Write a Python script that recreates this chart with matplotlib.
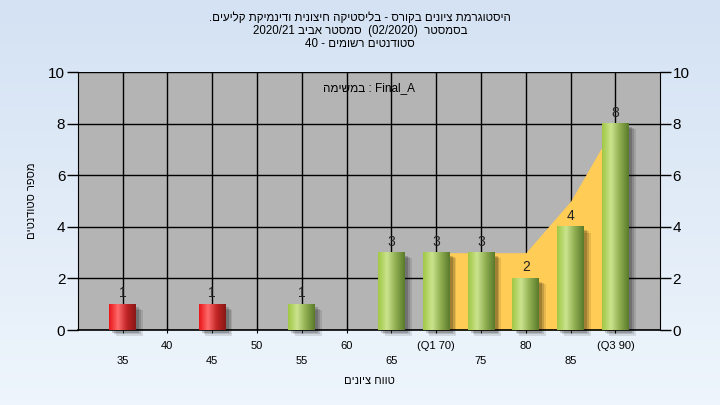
import numpy as np
import matplotlib.pyplot as plt
from matplotlib.colors import LinearSegmentedColormap

plt.rcParams['font.family'] = ['Liberation Sans', 'DejaVu Sans']

# data
grades = [35, 45, 55, 65, 70, 75, 80, 85, 90]
counts = [1, 1, 1, 3, 3, 3, 2, 4, 8]
fail_limit = 55
# quartile band (Q1..Q3) drawn behind the bars
band_x = [70, 75, 80, 85, 90]
band_y = [3, 3, 3, 5, 8]

major_ticks = [40, 50, 60, 70, 80, 90]
major_labels = ['40', '50', '60', '(Q1 70)', '80', '(Q3 90)']
minor_ticks = [35, 45, 55, 65, 75, 85]
minor_labels = ['35', '45', '55', '65', '75', '85']

title_lines = ['היסטוגרמת ציונים בקורס - בליסטיקה חיצונית ודינמיקת קליעים',
               'בסמסטר  (02/2020)  סמסטר אביב 2020/21',
               'סטודנטים רשומים - 40']
subtitle = 'במשימה : Final_A'
xlabel = 'טווח ציונים'
ylabel = 'סטודנטים מספר'


def heb(s, flip=False):
    # matplotlib has no bidi: turn each hebrew word around, optionally the word order too
    out = []
    for w in s.split(' '):
        if any('\u0590' <= c <= '\u05ff' for c in w):
            w = w[::-1]
        out.append(w)
    if flip:
        out = out[::-1]
    return ' '.join(out)


fig = plt.figure(figsize=(7.2, 4.05), dpi=100)

# light blue background gradient
bg = fig.add_axes([0, 0, 1, 1], zorder=-10)
bg.imshow(np.linspace(0, 1, 100).reshape(-1, 1),
          cmap=LinearSegmentedColormap.from_list('bg', ['#d4e2f3', '#eef5fc']),
          aspect='auto', extent=[0, 1, 0, 1])
bg.axis('off')

ax = fig.add_axes([0.108, 0.185, 0.809, 0.637])
ax.set_facecolor('#b4b4b4')

ax.fill_between(band_x, band_y, color='#ffcc55', zorder=1, lw=0)

green = LinearSegmentedColormap.from_list('g', ['#a0c844', '#cbe38e', '#8fae50', '#5a7a2c'])
red = LinearSegmentedColormap.from_list('r', ['#e8161a', '#ff6a6a', '#c02424', '#8a1616'])
grad = np.linspace(0, 1, 64).reshape(1, -1)
w = 3.0
for g, c in zip(grades, counts):
    # soft shadow
    for k, a in enumerate([0.18, 0.14, 0.1]):
        ax.bar(g + 0.35 + k * 0.2, c, width=w, bottom=-0.12 - k * 0.05, color='black',
               alpha=a, lw=0, zorder=2, clip_on=False)
    cm = red if g < fail_limit else green
    ax.imshow(grad, cmap=cm, aspect='auto', extent=[g - w / 2, g + w / 2, 0, c], zorder=3)
    ax.annotate(str(c), (g, c), xytext=(0, 8), textcoords='offset points',
                ha='center', va='center', fontsize=10, color='#222222', zorder=4)

ax.set_xlim(30, 95)
ax.set_ylim(0, 10)

ax.set_xticks(major_ticks)
ax.set_xticklabels(major_labels, fontsize=8)
ax.set_xticks(minor_ticks, minor=True)
ax.set_xticklabels(minor_labels, minor=True, fontsize=8)
ax.tick_params(axis='x', which='major', length=4, pad=6, direction='inout')
ax.tick_params(axis='x', which='minor', length=4, pad=17, direction='inout')
ax.set_yticks(range(0, 11, 2))
ax.tick_params(axis='y', labelsize=11, length=8, width=1, left=True, right=True,
               labelleft=True, labelright=True, pad=1)

ax.grid(True, which='both', axis='x', color='black', lw=1, zorder=0)
ax.grid(True, axis='y', color='black', lw=1, zorder=0)
ax.set_axisbelow(True)
ax.spines['top'].set_visible(False)
ax.spines['bottom'].set_linewidth(1.2)

ax.set_xlabel(heb(xlabel, flip=True), fontsize=8, labelpad=7)
ax.set_ylabel(heb(ylabel), fontsize=8, labelpad=8)
ax.text(0.5, 0.96, heb(subtitle), transform=ax.transAxes, ha='center', va='top', fontsize=8.5)

title = ['.' + heb(title_lines[0], flip=True)] + [heb(t, flip=True) for t in title_lines[1:]]
fig.text(0.5, 0.97, '\n'.join(title), ha='center', va='top', fontsize=8.3, linespacing=1.08)

plt.savefig('out.png', dpi=100)
